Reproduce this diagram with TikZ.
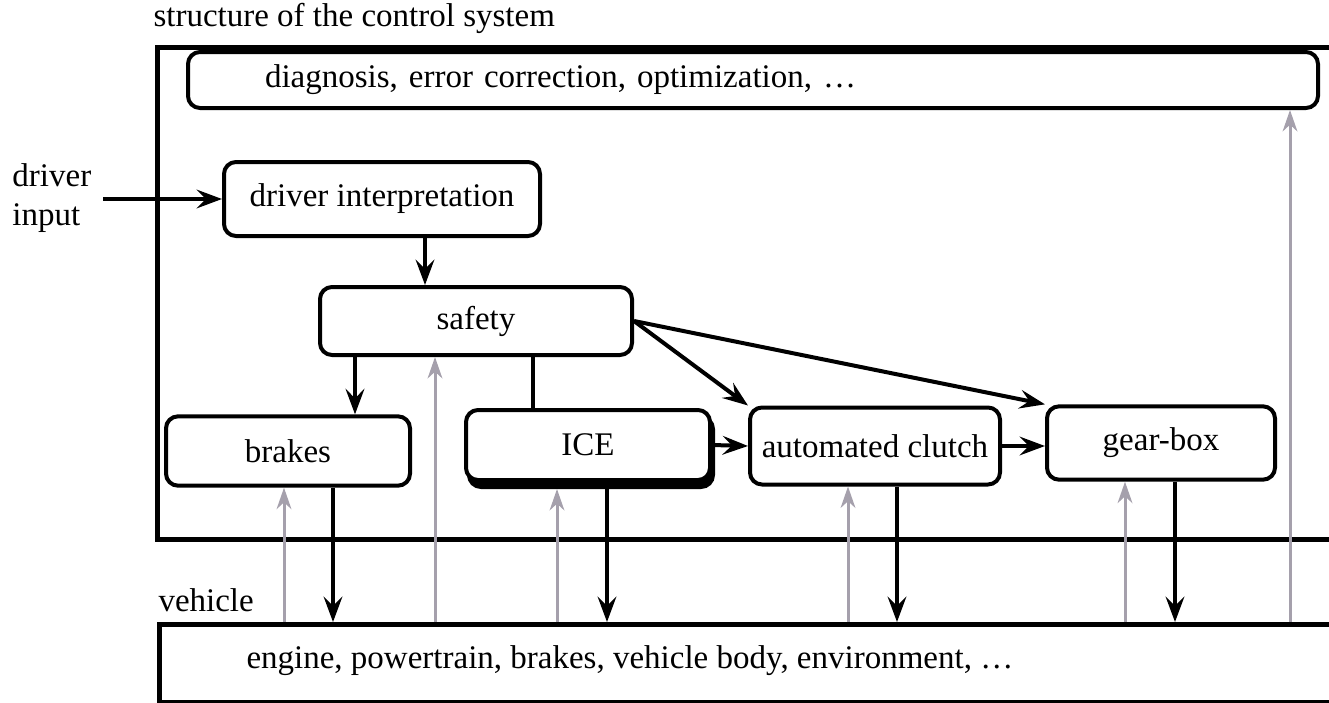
\documentclass[tikz,border=0pt]{standalone}
\usepackage{fontspec}
\setmainfont{Liberation Serif}
\usetikzlibrary{arrows.meta}

\definecolor{fbgray}{RGB}{165,160,172}

\tikzset{every picture/.style={line width=0.75pt}}
\tikzset{
  txt/.style={font=\fontsize{24.75}{29}\selectfont},
  blk/.style={txt, draw, line width=3pt, rounded corners=9pt, fill=white, inner sep=0pt},
  frm/.style={draw, line width=3.5pt, inner sep=0pt, anchor=north west},
  lbl/.style={txt, inner sep=0pt, anchor=west},
  arr/.style={line width=3pt, -{Stealth[length=19pt,width=14pt,inset=7pt]}},
  fb/.style={color=fbgray, line width=2.25pt, -{Stealth[length=16pt,width=11pt,inset=5pt]}}
}

\begin{document}
\begin{tikzpicture}[x=0.75pt,y=0.75pt,yscale=-1,xscale=1]
\useasboundingbox (0,0) rectangle (1329,703);
\clip (0,0) rectangle (1329,703);

%Frames
\node [frm, minimum width=940pt, minimum height=369pt] (ctrl) at (155,45) {};
\node [frm, minimum width=940pt, minimum height=58.5pt] (vehicle) at (157,622) {};

% Text Node
\node [lbl, anchor=south west] (ctrltxt) at (153,34) {structure of the control system};
% Text Node
\node [lbl] (vehtxt) at (158,600) {vehicle};
% Text Node
\node [lbl, align=left] (drvin) at (12,198) {driver\\input};
% Text Node
\node [lbl] (vehcont) at (246,661) {engine, powertrain, brakes, vehicle body, environment, \dots};

%Blocks
\node [blk, minimum height=42pt, text width=732pt, inner xsep=57.75pt, align=left] (diag) at (753,80) {diagnosis, error correction, optimization, \dots};
\node [blk, minimum width=237pt, minimum height=55.5pt] (drvint) at (382,199) {driver interpretation};
\node [blk, minimum width=234pt, minimum height=51pt] (safety) at (476,321) {safety};
\node [blk, minimum width=183pt, minimum height=52pt] (brakes) at (288,451) {brakes};
\node [blk, fill=black, minimum width=183pt, minimum height=52.5pt] (iceshd) at (591,452) {};
\node [blk, minimum width=183pt, minimum height=52.5pt] (ice) at (588,445) {ICE};
\node [blk, minimum width=187.5pt, minimum height=57.75pt] (clutch) at (875,446) {automated clutch};
\node [blk, minimum width=171pt, minimum height=55pt] (gearbox) at (1161,443) {gear-box};

%Straight Lines
\coordinate (din) at (103,199);
\draw [arr] (din) -- (drvint.west);
\draw [arr] (drvint.south -| 425,0) -- (safety.north -| 425,0);
\draw [arr] (safety.south -| 355,0) -- (brakes.north -| 355,0);
\draw [line width=3pt] (safety.south -| 533,0) -- (ice.north -| 533,0);
\draw [arr] (safety.east) -- (clutch.north west);
\draw [arr] (safety.east) -- (gearbox.north west);
\draw [arr] (ice.east) -- (clutch.west);
\draw [arr] (clutch.east) -- (clutch.east -| gearbox.west);

%Actuator signals
\foreach \bx/\px in {brakes/333, ice/607, clutch/897, gearbox/1175}
  \draw [arr] (\bx.south -| \px,0) -- (vehicle.north -| \px,0);

%Measured signals
\foreach \bx/\px in {brakes/284, safety/435, iceshd/557, clutch/848, gearbox/1125, diag/1290}
  \draw [fb] (vehicle.north -| \px,0) -- (\bx.south -| \px,0);

\end{tikzpicture}
\end{document}
